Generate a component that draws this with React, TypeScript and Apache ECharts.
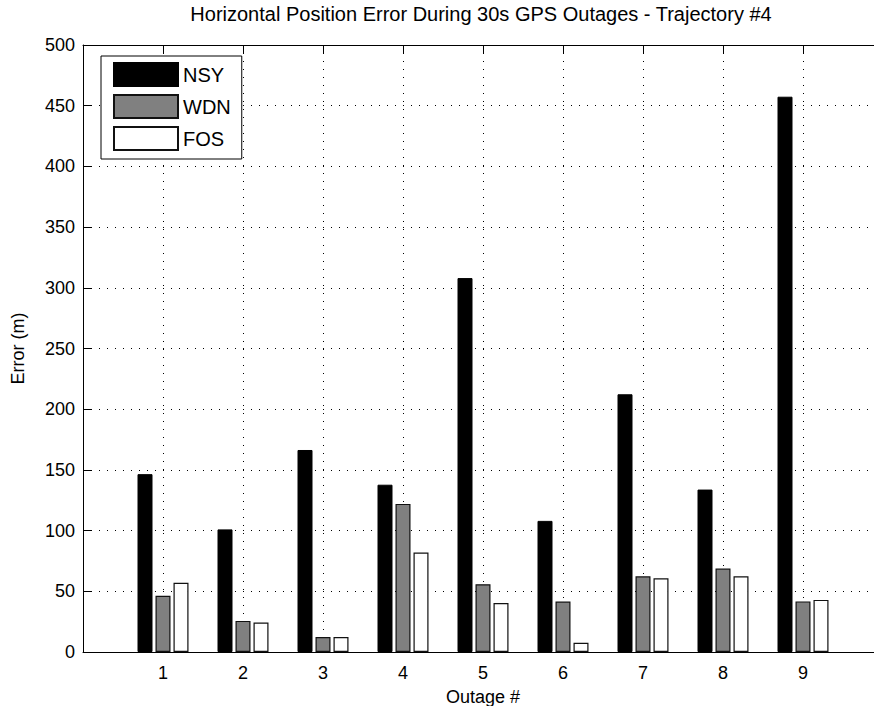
import React, { useEffect, useRef } from "react";
import * as echarts from "echarts";

const outages = [1, 2, 3, 4, 5, 6, 7, 8, 9];
const nsy = [146.5, 101, 166.4, 137.8, 308, 108, 212.3, 133.8, 457.4];
const wdn = [46.3, 25.6, 12.4, 122, 55.8, 41.5, 62.3, 68.7, 41.7];
const fos = [57, 24.2, 12.4, 82, 40.3, 7.6, 60.8, 62.3, 42.9];
const seriesNames = ["NSY", "WDN", "FOS"];
const titleText = "Horizontal Position Error During 30s GPS Outages - Trajectory #4";

const FONT = "Liberation Sans, Arial, Helvetica, sans-serif";

export default function App() {
  const ref = useRef<HTMLDivElement>(null);
  useEffect(() => {
    if (!ref.current) return;
    const chart = echarts.init(ref.current, null, { renderer: "svg" });
    const dotted = { type: [1, 7] as any, color: "#000", width: 1 };
    const mk = (vals: number[]) => outages.map((o, i) => [o, vals[i]]);
    const option: any = {
      animation: false,
      backgroundColor: "#fff",
      textStyle: { fontFamily: FONT },
      graphic: [
        {
          type: "text",
          x: 481,
          y: 14,
          style: {
            text: titleText,
            align: "center",
            verticalAlign: "middle",
            fontFamily: FONT,
            fontSize: 20,
            fill: "#000",
          },
        },
      ],
      grid: {
        left: 83,
        right: 1,
        top: 45,
        bottom: 54,
        containLabel: false,
        outerBoundsMode: "none",
      },
      legend: {
        orient: "vertical",
        left: 101,
        top: 56,
        itemWidth: 64,
        itemHeight: 23,
        itemGap: 7,
        padding: [6, 11, 8, 12],
        borderColor: "#000",
        borderWidth: 1,
        backgroundColor: "#fff",
        icon: "rect",
        textStyle: { fontSize: 20, color: "#000", fontFamily: FONT },
        data: seriesNames,
        z: 10,
      },
      xAxis: [
        {
          type: "value",
          position: "bottom",
          min: 0,
          max: 10,
          interval: 1,
          axisLine: { show: true, onZero: false, lineStyle: { color: "#000", width: 1 } },
          axisTick: { show: true, inside: true, length: 8, lineStyle: { color: "#000" } },
          axisLabel: {
            fontSize: 18,
            color: "#000",
            margin: 12,
            fontFamily: FONT,
            formatter: (v: number) => (v >= 1 && v <= 9 ? String(v) : ""),
          },
          splitLine: { show: true, lineStyle: dotted },
          name: "Outage #",
          nameLocation: "middle",
          nameGap: 36,
          nameTextStyle: { fontSize: 18, color: "#000", fontFamily: FONT },
        },
        {
          type: "value",
          position: "top",
          min: 0,
          max: 10,
          interval: 1,
          axisLine: { show: true, onZero: false, lineStyle: { color: "#000", width: 1 } },
          axisTick: { show: true, inside: true, length: 8, lineStyle: { color: "#000" } },
          axisLabel: { show: false },
          splitLine: { show: false },
        },
      ],
      yAxis: {
        type: "value",
        min: 0,
        max: 500,
        interval: 50,
        axisLine: { show: true, onZero: false, lineStyle: { color: "#000", width: 1 } },
        axisTick: { show: true, inside: true, length: 8, lineStyle: { color: "#000" } },
        axisLabel: { fontSize: 18, color: "#000", margin: 8, fontFamily: FONT },
        splitLine: { show: true, lineStyle: dotted },
        name: "Error (m)",
        nameLocation: "middle",
        nameGap: 56,
        nameTextStyle: { fontSize: 18, color: "#000", fontFamily: FONT },
      },
      series: [
        {
          name: seriesNames[0],
          type: "bar",
          data: mk(nsy),
          barWidth: 15,
          barGap: "20%",
          itemStyle: { color: "#000", borderColor: "#000", borderWidth: 1 },
        },
        {
          name: seriesNames[1],
          type: "bar",
          data: mk(wdn),
          barWidth: 15,
          barGap: "20%",
          itemStyle: { color: "#808080", borderColor: "#111", borderWidth: 1.2 },
        },
        {
          name: seriesNames[2],
          type: "bar",
          data: mk(fos),
          barWidth: 15,
          barGap: "20%",
          itemStyle: { color: "#fff", borderColor: "#111", borderWidth: 1.2 },
        },
      ],
    };
    chart.setOption(option);
    return () => chart.dispose();
  }, []);
  return (
    <div
      style={{
        position: "absolute",
        left: 0,
        top: 0,
        width: 874,
        height: 706,
        overflow: "hidden",
        background: "#fff",
      }}
    >
      <div ref={ref} style={{ width: 884, height: 706 }} />
    </div>
  );
}
